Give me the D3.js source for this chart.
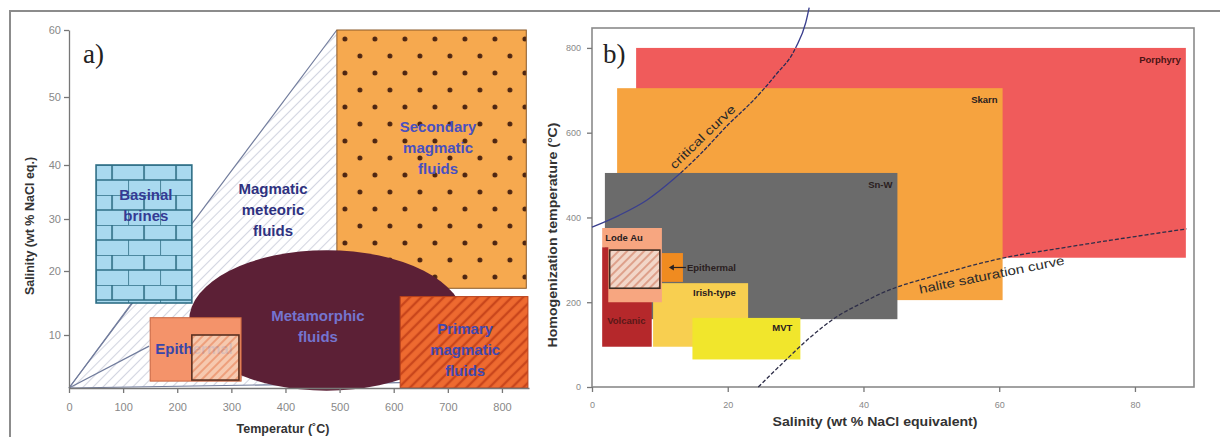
<!DOCTYPE html>
<html>
<head>
<meta charset="utf-8">
<script src="https://cdn.jsdelivr.net/npm/d3@7"></script>
<style>
  body { margin: 0; background: #fff; }
  svg { display: block; font-family: "Liberation Sans", Arial, sans-serif; }
  .axis .domain, .axis line { stroke: #777; stroke-width: 1.3; }
  .axis text { fill: #888; }
</style>
</head>
<body>
<svg id="chart" width="1220" height="437"></svg>
<script>
// ---- panel a) data: temperature (°C) vs salinity (wt % NaCl eq.)
const aTempTicks = [0, 100, 200, 300, 400, 500, 600, 700, 800];
const aSalTicks = [10, 20, 30, 40, 50, 60];
const aSecondary = { t: [495, 845], s: [17.3, 60] };
const aBasinal = { t: [50, 227], s: [15, 40] };
const aEpithermal = { t: [150, 318], s: [1.3, 12.7] };
const aEpiInner = { t: [227, 314], s: [1.5, 10] };
const aPrimary = { t: [612, 848], s: [0, 16] };
const aMetamorphic = { t: [222, 730], s: [-0.5, 24] };
const aMeteoricWedge = [[0, 0], [495, 60], [495, 0.8]];
const aMixEnds = [[495, 60], [116, 15], [148, 7.9], [612, 1]];

// ---- panel b) data: salinity (wt % NaCl equiv.) vs homogenization T (°C)
const bSalTicks = [0, 20, 40, 60, 80];
const bTempTicks = [0, 200, 400, 600, 800];
const bFields = [
  { name: "Porphyry", s: [6.5, 87.5], t: [305, 800] },
  { name: "Skarn", s: [3.7, 60.5], t: [205, 705] },
  { name: "Sn-W", s: [1.9, 45], t: [160, 505] },
  { name: "Irish-type", s: [9, 23], t: [95, 245] },
  { name: "MVT", s: [14.8, 30.7], t: [65, 163] },
  { name: "Volcanic", s: [1.5, 8.8], t: [95, 330] }
];
const bLodeAu = [[1.5, 375], [10.3, 375], [10.3, 200], [2.4, 200], [2.4, 330], [1.5, 330]];
const bEpiHatch = { s: [2.6, 10], t: [233, 323] };
const bEpiOrange = { s: [10.3, 13.4], t: [248, 316] };
const criticalCurve = [[0, 377], [4, 405], [8, 440], [12, 490], [16, 550], [20, 618],
  [24, 680], [27, 735], [30, 800], [31.5, 860], [32, 895]];
const haliteCurve = [[24.5, 0], [28, 55], [32, 115], [36, 165], [40, 200], [42.5, 220],
  [45, 236], [50, 260], [60.5, 304], [70, 330], [80, 355], [87.6, 373]];

const bColors = {
  "Porphyry": "#f05b5b", "Skarn": "#f6a33f", "Sn-W": "#6b6b6b",
  "Irish-type": "#f8cf50", "MVT": "#f1e62c", "Volcanic": "#b5282b"
};

const svg = d3.select("#chart");
const defs = svg.append("defs");

function hatch(id, size, bg, fg, w) {
  const p = defs.append("pattern").attr("id", id)
    .attr("width", size).attr("height", size)
    .attr("patternUnits", "userSpaceOnUse")
    .attr("patternTransform", "rotate(45)");
  if (bg) p.append("rect").attr("width", size).attr("height", size).attr("fill", bg);
  p.append("line").attr("x1", size / 2).attr("x2", size / 2)
    .attr("y1", 0).attr("y2", size)
    .attr("stroke", fg).attr("stroke-width", w);
}
hatch("hMeteoric", 7, null, "#d2d5e0", 1.1);
hatch("hPrimary", 8, "#ee6a30", "#c9461c", 2.4);
hatch("hEpiA", 6, "#f6d2bb", "#ec9a74", 1.7);
hatch("hEpiB", 6, "#f2d6c8", "#d9937c", 1.6);

// outer frame
svg.append("rect").attr("x", 10).attr("y", 11).attr("width", 1240).attr("height", 460)
  .attr("fill", "none").attr("stroke", "#8c8c8c").attr("stroke-width", 2);

// ================= panel a =================
const xa = d3.scaleLinear().domain([0, 850]).range([69, 529]);
const ya = d3.scaleLinear().domain([0, 10, 20, 30, 40, 50, 60])
  .range([388, 335, 271, 219, 165, 97, 30]);

const rectOf = (g, box, x, y) => g.append("rect")
  .attr("x", x(box.t[0])).attr("y", y(box.s[1]))
  .attr("width", x(box.t[1]) - x(box.t[0]))
  .attr("height", y(box.s[0]) - y(box.s[1]));

// brick pattern for basinal brines
const brick = defs.append("pattern").attr("id", "brick")
  .attr("width", 32).attr("height", 30).attr("patternUnits", "userSpaceOnUse")
  .attr("x", xa(aBasinal.t[0])).attr("y", ya(aBasinal.s[1]));
brick.append("rect").attr("width", 32).attr("height", 30).attr("fill", "#a9d9ef");
brick.append("path").attr("d", "M0,0H32M0,15H32M16,0V15M0,15V30")
  .attr("stroke", "#2f6f86").attr("stroke-width", 1.6).attr("fill", "none");

// dot pattern for secondary magmatic fluids
const dots = defs.append("pattern").attr("id", "dots")
  .attr("width", 30).attr("height", 34).attr("patternUnits", "userSpaceOnUse")
  .attr("x", xa(aSecondary.t[0])).attr("y", ya(aSecondary.s[1]));
dots.append("rect").attr("width", 30).attr("height", 34).attr("fill", "#f6a94f");
[[8, 9], [23, 26]].forEach(([cx, cy]) => {
  dots.append("circle").attr("cx", cx).attr("cy", cy).attr("r", 2.5).attr("fill", "#4e2612");
});

const ga = svg.append("g");

// magmatic-meteoric wedge
ga.append("path")
  .attr("d", d3.line().x(d => xa(d[0])).y(d => ya(d[1]))(aMeteoricWedge) + "Z")
  .attr("fill", "url(#hMeteoric)");

// mixing lines from pure water
ga.selectAll(".mix").data(aMixEnds).enter().append("line")
  .attr("x1", xa(0)).attr("y1", ya(0))
  .attr("x2", d => xa(d[0])).attr("y2", d => ya(d[1]))
  .attr("stroke", "#717c9c").attr("stroke-width", 1.2);

rectOf(ga, aSecondary, xa, ya).attr("fill", "url(#dots)").attr("stroke", "#8a5a2a").attr("stroke-width", 1);
rectOf(ga, aBasinal, xa, ya).attr("fill", "url(#brick)").attr("stroke", "#2f6f86").attr("stroke-width", 1.6);

ga.append("ellipse")
  .attr("cx", (xa(aMetamorphic.t[0]) + xa(aMetamorphic.t[1])) / 2)
  .attr("cy", (ya(aMetamorphic.s[0]) + ya(aMetamorphic.s[1])) / 2)
  .attr("rx", (xa(aMetamorphic.t[1]) - xa(aMetamorphic.t[0])) / 2)
  .attr("ry", (ya(aMetamorphic.s[0]) - ya(aMetamorphic.s[1])) / 2)
  .attr("fill", "#5c2036");

rectOf(ga, aEpithermal, xa, ya).attr("fill", "#f4936a").attr("stroke", "#c8643e").attr("stroke-width", 1);

function labelA(lines, t, s, color, size) {
  const txt = ga.append("text").attr("x", xa(t)).attr("y", ya(s))
    .attr("text-anchor", "middle").attr("font-weight", "bold")
    .attr("font-size", size).attr("fill", color);
  const n = lines.length;
  lines.forEach((l, i) => {
    txt.append("tspan").attr("x", xa(t))
      .attr("dy", i === 0 ? ((-(n - 1) / 2) * 1.4 + 0.35) + "em" : "1.4em").text(l);
  });
}
labelA(["Epithermal"], 231, 7.4, "#3a46a8", 15);
rectOf(ga, aEpiInner, xa, ya).attr("fill", "url(#hEpiA)").attr("fill-opacity", 0.85)
  .attr("stroke", "#5a3020").attr("stroke-width", 1.6);

rectOf(ga, aPrimary, xa, ya).attr("fill", "url(#hPrimary)").attr("stroke", "#b8401a").attr("stroke-width", 1);

labelA(["Magmatic", "meteoric", "fluids"], 377, 31.7, "#2e3180", 15);
labelA(["Basinal", "brines"], 142, 32.5, "#353a94", 15);
labelA(["Secondary", "magmatic", "fluids"], 682, 42.6, "#4850c0", 15);
labelA(["Metamorphic", "fluids"], 460, 11.3, "#7474cf", 15);
labelA(["Primary", "magmatic", "fluids"], 732, 7.3, "#4048b0", 15);

// axes a
ga.append("g").attr("class", "axis").attr("transform", `translate(${xa(0)},0)`)
  .call(d3.axisLeft(ya).tickValues(aSalTicks).tickSize(5).tickSizeOuter(0).tickPadding(3))
  .call(g => g.selectAll("text").attr("font-size", 11).attr("font-family", null));
ga.append("g").attr("class", "axis").attr("transform", `translate(0,${ya(0)})`)
  .call(d3.axisBottom(xa).tickValues(aTempTicks).tickSize(5).tickSizeOuter(0).tickPadding(10))
  .call(g => g.selectAll("text").attr("font-size", 11).attr("font-family", null));

ga.append("text").attr("x", 283).attr("y", 433).attr("text-anchor", "middle")
  .attr("font-size", 12.5).attr("font-weight", "bold").attr("fill", "#333")
  .text("Temperatur (˚C)");
ga.append("text").attr("transform", "translate(30,226) rotate(-90)")
  .attr("text-anchor", "middle").attr("dominant-baseline", "central")
  .attr("font-size", 12.5).attr("font-weight", "bold").attr("fill", "#333")
  .text("Salinity (wt % NaCl eq.)");
ga.append("text").attr("x", 83).attr("y", 63)
  .attr("font-family", "'Liberation Serif', 'DejaVu Serif', serif")
  .attr("font-size", 27).attr("fill", "#222").text("a)");

// ================= panel b =================
const xb = d3.scaleLinear().domain([0, 88.7]).range([592, 1194]);
const yb = d3.scaleLinear().domain([0, 847]).range([387, 28]);
const gb = svg.append("g");

gb.append("rect").attr("x", 592).attr("y", 28).attr("width", 1194 - 592).attr("height", 387 - 28)
  .attr("fill", "#fff");

const bRect = (g, f) => g.append("rect")
  .attr("x", xb(f.s[0])).attr("y", yb(f.t[1]))
  .attr("width", xb(f.s[1]) - xb(f.s[0]))
  .attr("height", yb(f.t[0]) - yb(f.t[1]));

bFields.forEach(f => bRect(gb, f).attr("fill", bColors[f.name]));

gb.append("path")
  .attr("d", d3.line().x(d => xb(d[0])).y(d => yb(d[1]))(bLodeAu) + "Z")
  .attr("fill", "#f7a680");
bRect(gb, bEpiHatch).attr("fill", "url(#hEpiB)").attr("stroke", "#3e2c22").attr("stroke-width", 1.6);
bRect(gb, bEpiOrange).attr("fill", "#f08b20");

// frame and axes b
gb.append("rect").attr("x", 592).attr("y", 28).attr("width", 1194 - 592).attr("height", 387 - 28)
  .attr("fill", "none").attr("stroke", "#8a8a8a").attr("stroke-width", 1.6);
gb.append("g").attr("class", "axis").attr("transform", "translate(592,0)")
  .call(d3.axisLeft(yb).tickValues(bTempTicks).tickSize(5).tickSizeOuter(0).tickPadding(6))
  .call(g => g.select(".domain").remove())
  .call(g => g.selectAll("text").attr("font-size", 9).attr("font-family", null).attr("fill", "#999"));
gb.append("g").attr("class", "axis").attr("transform", "translate(0,387)")
  .call(d3.axisBottom(xb).tickValues(bSalTicks).tickSize(5).tickSizeOuter(0).tickPadding(10))
  .call(g => g.select(".domain").remove())
  .call(g => g.selectAll("text").attr("font-size", 9).attr("font-family", null).attr("fill", "#999"));

// curves: critical curve solid blue over white/grey, dashed over the coloured fields
const skarnTop = byNameT("Skarn"), porphTop = byNameT("Porphyry");
function byNameT(n) { return bFields.find(f => f.name === n).t[1]; }
defs.append("clipPath").attr("id", "clipDash").append("rect")
  .attr("x", 0).attr("y", yb(porphTop)).attr("width", 1220).attr("height", yb(505) - yb(porphTop));
const clipSolid = defs.append("clipPath").attr("id", "clipSolid");
clipSolid.append("rect").attr("x", 0).attr("y", 0).attr("width", 1220).attr("height", yb(porphTop));
clipSolid.append("rect").attr("x", 0).attr("y", yb(505)).attr("width", 1220).attr("height", 437 - yb(505));

const curveLine = d3.line().x(d => xb(d[0])).y(d => yb(d[1])).curve(d3.curveMonotoneX);
gb.append("path").attr("d", curveLine(criticalCurve)).attr("fill", "none")
  .attr("clip-path", "url(#clipSolid)")
  .attr("stroke", "#3a3f8e").attr("stroke-width", 1.3);
gb.append("path").attr("d", curveLine(criticalCurve)).attr("fill", "none")
  .attr("clip-path", "url(#clipDash)")
  .attr("stroke", "#2a2a55").attr("stroke-width", 1.3).attr("stroke-dasharray", "4,1.5");
gb.append("path").attr("d", curveLine(haliteCurve)).attr("fill", "none")
  .attr("stroke", "#2e2e48").attr("stroke-width", 1.3).attr("stroke-dasharray", "4,2");

gb.append("text").attr("transform", `translate(${xb(16.3)},${yb(590)}) rotate(-44)`)
  .attr("text-anchor", "middle").attr("dominant-baseline", "central")
  .attr("font-size", 12).attr("fill", "#2a2a2a")
  .attr("textLength", 86).attr("lengthAdjust", "spacingAndGlyphs")
  .text("critical curve");
gb.append("text").attr("transform", `translate(${xb(58.9)},${yb(264)}) rotate(-11.5)`)
  .attr("text-anchor", "middle").attr("dominant-baseline", "central")
  .attr("font-size", 12.5).attr("fill", "#2a2a2a")
  .attr("textLength", 148).attr("lengthAdjust", "spacingAndGlyphs")
  .text("halite saturation curve");

// field labels
const fl = (x, y, txt, anchor, color) => gb.append("text").attr("x", x).attr("y", y)
  .attr("text-anchor", anchor).attr("font-size", 9.5).attr("font-weight", "bold")
  .attr("fill", color || "#2a2020").text(txt);
const byName = n => bFields.find(f => f.name === n);
["Porphyry", "Skarn", "Sn-W"].forEach(n => {
  const f = byName(n);
  fl(xb(f.s[1]) - 5, yb(f.t[1]) + 15, n, "end", n === "Porphyry" ? "#4a1414" : "#2a2020");
});
fl(xb(byName("Irish-type").s[0]) + 40, yb(byName("Irish-type").t[1]) + 13, "Irish-type", "start");
fl(xb(byName("MVT").s[1]) - 8, yb(byName("MVT").t[1]) + 13, "MVT", "end");
fl(xb(byName("Volcanic").s[0]) + 5, yb(158) + 3.5, "Volcanic", "start", "#5a1818");
fl(xb(bLodeAu[0][0]) + 3, yb(bLodeAu[0][1]) + 13, "Lode Au", "start");

// epithermal arrow
const ay = yb((bEpiOrange.t[0] + bEpiOrange.t[1]) / 2);
const ax = xb(bEpiOrange.s[0]) + 7;
gb.append("line").attr("x1", ax + 2).attr("x2", ax + 17).attr("y1", ay).attr("y2", ay)
  .attr("stroke", "#2a2020").attr("stroke-width", 1.2);
gb.append("path").attr("d", `M${ax},${ay}l5,-3v6z`).attr("fill", "#2a2020");
fl(ax + 18, ay + 3.5, "Epithermal", "start");

gb.append("text").attr("transform", "translate(553,235) rotate(-90)")
  .attr("text-anchor", "middle").attr("dominant-baseline", "central")
  .attr("font-size", 12.5).attr("font-weight", "bold").attr("fill", "#333")
  .attr("textLength", 225).attr("lengthAdjust", "spacingAndGlyphs")
  .text("Homogenization temperature (°C)");
gb.append("text").attr("x", 875).attr("y", 426).attr("text-anchor", "middle")
  .attr("font-size", 12.5).attr("font-weight", "bold").attr("fill", "#333")
  .attr("textLength", 205).attr("lengthAdjust", "spacingAndGlyphs")
  .text("Salinity (wt % NaCl equivalent)");
gb.append("text").attr("x", 603).attr("y", 63)
  .attr("font-family", "'Liberation Serif', 'DejaVu Serif', serif")
  .attr("font-size", 27).attr("fill", "#222").text("b)");
</script>
</body>
</html>
